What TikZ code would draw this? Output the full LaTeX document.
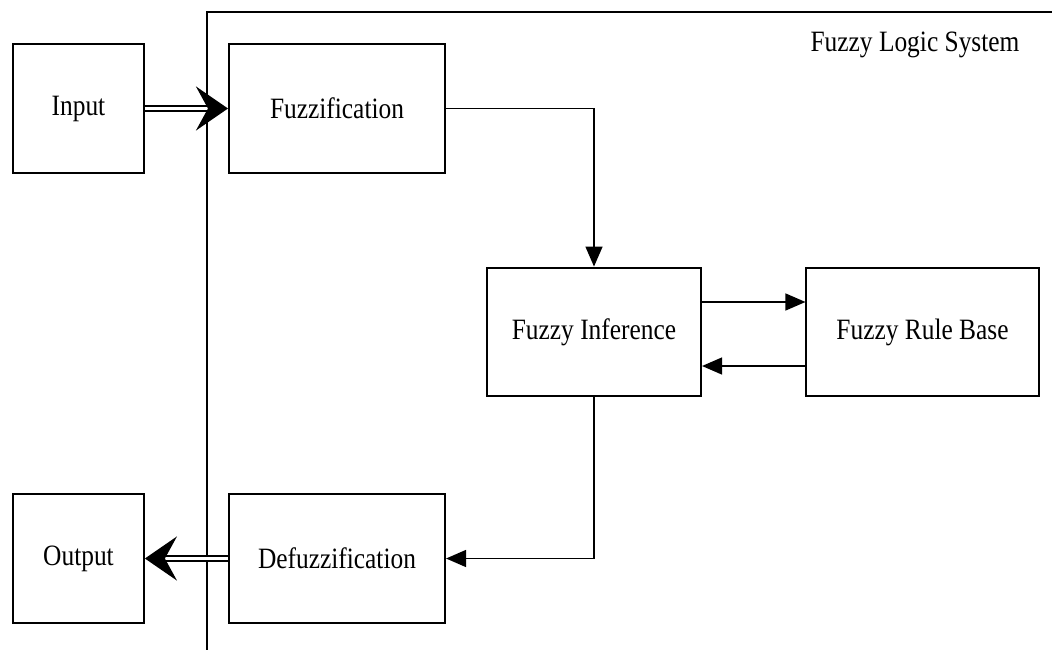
\documentclass[tikz,border=0pt]{standalone}
\usepackage{fontspec}
\setmainfont{Liberation Serif}[FakeStretch=0.86]
\usetikzlibrary{arrows.meta}
\tikzset{
box/.style = {rectangle, draw=black, line width=1.4pt, minimum width = #1,
              minimum height=3.22cm, inner sep=0pt,
              font=\fontsize{21}{25}\selectfont},
box/.default = 5.4cm % width of the box
}
\tikzset{
flow/.style = {line width=1.4pt, -{Triangle[length=0.5cm, width=0.42cm]}},
bigflow/.style = {double, double distance=2.6pt, line width=1.5pt,
                  -{Stealth[length=0.8cm, width=1.1cm, inset=0.3cm]}}
}

\begin{document}
\begin{tikzpicture}[x=0.025cm, y=-0.025cm]
  \useasboundingbox (0,0) rectangle (1052,650);

  % System frame
    \coordinate (sysBot) at (207,650);
    \coordinate (sysCorner) at (207,12);
    \coordinate (sysRight) at (1052,12);
    \draw[line width=1pt] (sysBot) -- (sysCorner) -- (sysRight);
    \node[font=\fontsize{21}{25}\selectfont] (title) at (915,45) {Fuzzy Logic System};

  % Boxes
    \node[box=3.27cm] (inBox) at (78.5,108.5) {Input};
    \node[box] (fuzzBox) at (337,108.5) {Fuzzification};
    \node[box=5.35cm] (infBox) at (594,332) {Fuzzy Inference};
    \node[box=5.8cm] (ruleBox) at (922.5,332) {Fuzzy Rule Base};
    \node[box] (defuzzBox) at (337,558.5) {Defuzzification};
    \node[box=3.27cm] (outBox) at (78.5,558.5) {Output};

  % Lines
    \draw[bigflow] (inBox) -- (fuzzBox);
    \draw[flow] (fuzzBox.east) -| (infBox.north);
    \draw[flow] ([yshift=0.75cm]infBox.east) -- ([yshift=0.75cm]ruleBox.west);
    \draw[flow] ([yshift=-0.85cm]ruleBox.west) -- ([yshift=-0.85cm]infBox.east);
    \draw[flow] (infBox.south) |- (defuzzBox.east);
    \draw[bigflow] (defuzzBox) -- (outBox);
\end{tikzpicture}
\end{document}
